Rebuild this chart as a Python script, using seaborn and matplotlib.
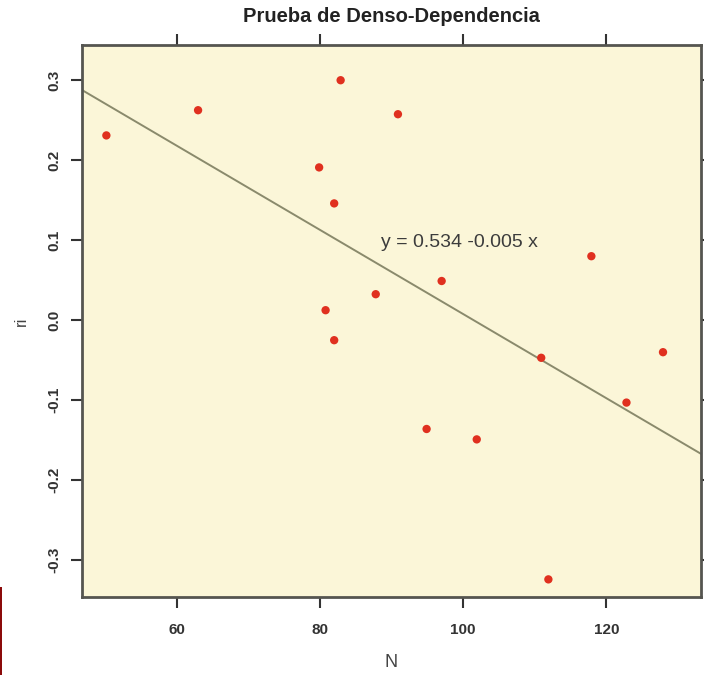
import numpy as np
import pandas as pd
import matplotlib
matplotlib.use("Agg")
import matplotlib.pyplot as plt
from matplotlib.patches import Rectangle
import seaborn as sns

# Population size N and per-capita growth rate ri
N = [50.2, 63.0, 82.9, 90.9, 79.9, 82.0, 97.0, 87.8, 80.8, 82.0,
     117.9, 110.9, 127.9, 122.8, 94.9, 101.9, 111.9]
ri = [0.231, 0.2625, 0.300, 0.2575, 0.191, 0.146, 0.049, 0.0325, 0.0125, -0.025,
      0.080, -0.047, -0.040, -0.103, -0.136, -0.149, -0.324]
x_ticks = [60, 80, 100, 120]
y_ticks = [-0.3, -0.2, -0.1, 0.0, 0.1, 0.2, 0.3]

df = pd.DataFrame({"N": N, "ri": ri})
slope, intercept = np.polyfit(df["N"], df["ri"], 1)

sns.set_theme(style="ticks")
plt.rcParams["font.family"] = ["Liberation Sans", "DejaVu Sans"]

fig = plt.figure(figsize=(7.04, 6.75), dpi=100)
ax = fig.add_axes([0.1165, 0.1156, 0.8792, 0.8177])
ax.set_facecolor("#fbf6d8")

ax.set_xlim(46.8, 133.2)
ax.set_ylim(-0.346, 0.344)

sns.regplot(data=df, x="N", y="ri", ax=ax, scatter=False, ci=None,
            truncate=False, line_kws=dict(color="#8a8a6c", lw=1.4))
sns.scatterplot(data=df, x="N", y="ri", ax=ax, color="#e0301f", s=36,
                edgecolor="none", zorder=3)

ax.text(88.5, 0.0975, f"y = {intercept:.3f} {slope:.3f} x", fontsize=14,
        color="#3c3c3c", va="center", ha="left")

ax.set_xticks(x_ticks)
ax.set_xticklabels([f"{v}" for v in x_ticks], fontsize=11, fontweight="bold",
                   color="#333333")
ax.set_yticks(y_ticks)
ax.set_yticklabels([f"{v:.1f}" for v in y_ticks], fontsize=11, fontweight="bold",
                   color="#333333", rotation=90, va="center")
ax.tick_params(axis="both", which="both", direction="out", length=8, width=1.5,
               color="#333333", top=True, right=True, pad=11)
ax.tick_params(axis="y", pad=7)

for side in ax.spines.values():
    side.set_visible(True)
    side.set_color("#555550")
    side.set_linewidth(2.0)

ax.set_xlabel("N", fontsize=13, color="#444444", labelpad=12)
ax.set_ylabel("ri", fontsize=12, color="#444444", labelpad=13)
fig.text(391 / 704, 1 - 17 / 675, "Prueba de Denso-Dependencia", fontsize=14.5,
         fontweight="bold", color="#222222", ha="center", va="center")

fig.patches.append(Rectangle((0, 0), 2 / 704, 88 / 675, transform=fig.transFigure,
                             facecolor="#8b0a0a", edgecolor="none"))

fig.savefig("out.png", dpi=100)
